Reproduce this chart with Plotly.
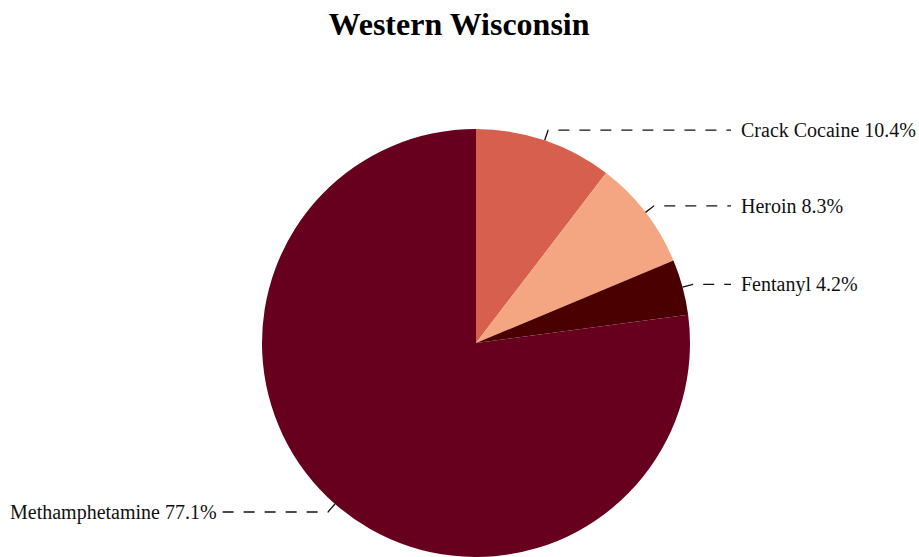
import math
import plotly.graph_objects as go

title = "Western Wisconsin"
drugs = ["Crack Cocaine", "Heroin", "Fentanyl", "Methamphetamine"]
shares = [10.4, 8.3, 4.2, 77.1]
colors = ["#d6604d", "#f4a582", "#4a0000", "#67001f"]

W, H = 919, 557
TOP = 129
BOT = 0
R = (H - TOP - BOT) / 2
CX = 476
CY = TOP + R

def px_to_paper(x, y):
    return x / W, (H - BOT - y) / (H - TOP - BOT)

fig = go.Figure()
fig.add_trace(go.Pie(
    labels=drugs, values=shares, sort=False, direction="clockwise", rotation=0,
    marker=dict(colors=colors, line=dict(width=0)),
    textinfo="none", hoverinfo="label+percent",
    domain=dict(x=[(CX - R) / W, (CX + R) / W], y=[0, 1]),
))

total = sum(shares)
cum = 0
shapes, annotations = [], []
for name, v in zip(drugs, shares):
    mid = (cum + v / 2) / total * 2 * math.pi
    cum += v
    sx, sy = CX + R * math.sin(mid), CY - R * math.cos(mid)
    ex, ey = CX + 1.05 * R * math.sin(mid), CY - 1.05 * R * math.cos(mid)
    right = math.sin(mid) >= 0
    hx = 731 if right else 222
    lx = 739 if right else 219
    x0, y0 = px_to_paper(sx, sy)
    x1, y1 = px_to_paper(ex, ey)
    x2, y2 = px_to_paper(hx, ey)
    shapes.append(dict(type="path", xref="paper", yref="paper",
                       path=f"M {x0},{y0} L {x1},{y1} L {x2},{y2}",
                       line=dict(color="#111111", width=1.3, dash="11px,10px")))
    tx, ty = px_to_paper(lx, ey)
    annotations.append(dict(xref="paper", yref="paper", x=tx, y=ty, showarrow=False,
                            text=f"{name} {v:.1f}%", xanchor="left" if right else "right",
                            yanchor="middle", font=dict(size=20, color="#111111")))

fig.update_layout(
    width=W, height=H,
    margin=dict(l=0, r=0, t=TOP, b=BOT),
    paper_bgcolor="white", plot_bgcolor="white",
    showlegend=False,
    font=dict(family="Liberation Serif, Times New Roman, serif", color="#111111"),
    title=dict(text=f"<b>{title}</b>", x=459 / W, xanchor="center",
               y=1 - 24 / H, yanchor="middle",
               xref="paper", yref="container", font=dict(size=32, color="#000000")),
    shapes=shapes, annotations=annotations,
)

fig.write_html("out.html", config={"displayModeBar": False},
               post_script="document.body.style.margin='0';document.body.style.overflow='hidden';")
